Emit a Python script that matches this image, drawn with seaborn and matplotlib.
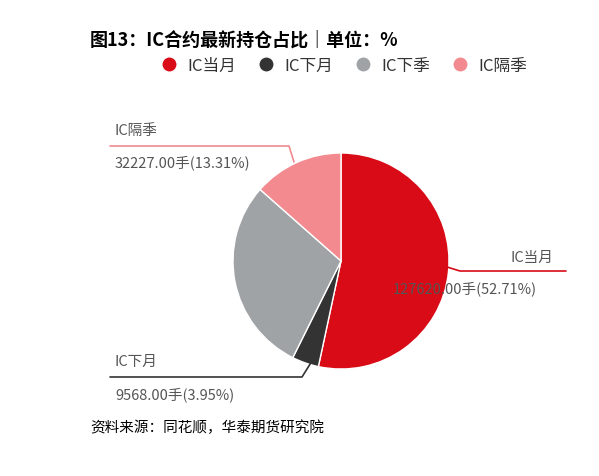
import matplotlib
matplotlib.use("Agg")
import matplotlib.pyplot as plt
import seaborn as sns

sns.set_theme(style="white")
plt.rcParams['font.family'] = ['Noto Sans CJK SC', 'DejaVu Sans']

labels = ["IC当月", "IC下月", "IC下季", "IC隔季"]
values = [127620.00, 9568.00, 69745.00, 32227.00]
pcts = [52.71, 3.95, 29.93, 13.31]
colors = ["#D80B16", "#333333", "#A0A3A6", "#F28A8F"]

W, H = 599, 477
fig = plt.figure(figsize=(W/100, H/100), dpi=100)
r = 108
ax = fig.add_axes([(341-r)/W, 1-(262+r)/H, 2*r/W, 2*r/H])
ax.pie(values, colors=colors, startangle=90, counterclock=False,
       wedgeprops=dict(linewidth=1, edgecolor="white"))
ax.set_xlim(-1, 1)
ax.set_ylim(-1, 1)
ax.set_aspect("equal")
ax.axis("off")

def px(x, y):
    return x/W, 1-y/H

fig.text(*px(90, 40), "图13：IC合约最新持仓占比｜单位：%", fontsize=13, fontweight="bold",
         va="center", ha="left", color="black")

handles = [plt.Line2D([0], [0], marker='o', color='w', markerfacecolor=c, markersize=11) for c in colors]
fig.legend(handles, labels, loc="center", bbox_to_anchor=px(340, 66), ncol=4, frameon=False,
           fontsize=12, handletextpad=0.1, columnspacing=0.8, labelcolor="#333333")

def line(xs, ys, color):
    fig.add_artist(plt.Line2D([x/W for x in xs], [1-y/H for y in ys], color=color, lw=1.2))

line([294, 289, 110], [163, 147, 147], "#F28A8F")
fig.text(*px(115, 131), "IC隔季", fontsize=10.5, color="#555555", va="center")
fig.text(*px(115, 163), f"{values[3]:.2f}手({pcts[3]:.2f}%)", fontsize=10.5, color="#555555", va="center")
line([447, 460, 566], [268, 272, 272], "#D80B16")
fig.text(*px(510, 258), "IC当月", fontsize=10.5, color="#555555", va="center")
fig.text(*px(393, 289), f"{values[0]:.2f}手({pcts[0]:.2f}%)", fontsize=10.5, color="#555555", va="center")
line([312, 302, 110], [362, 378, 378], "#333333")
fig.text(*px(115, 362), "IC下月", fontsize=10.5, color="#555555", va="center")
fig.text(*px(115, 395), f"{values[1]:.2f}手({pcts[1]:.2f}%)", fontsize=10.5, color="#555555", va="center")

fig.text(*px(90, 428), "资料来源：同花顺，华泰期货研究院", fontsize=10.5, style="italic",
         color="black", va="center")

fig.savefig("out.png", dpi=100, facecolor="white")
